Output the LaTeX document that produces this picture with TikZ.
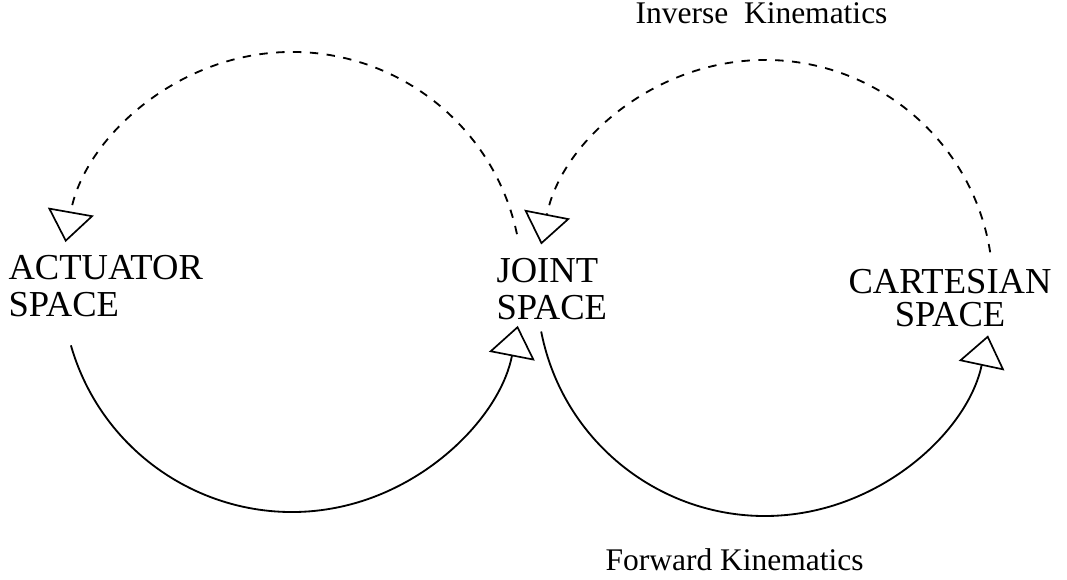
\documentclass[tikz,border=0pt]{standalone}
\usepackage{fontspec}
\setmainfont{Liberation Serif}
\usetikzlibrary{arrows.meta}
\tikzset{
  spacelabel/.style={inner sep=0pt,font=\fontsize{13}{13.1}\selectfont},
  kinlabel/.style={inner sep=0pt,font=\fontsize{11.2}{13}\selectfont},
  openhead/.style={-{Triangle[open,length=11pt,width=16.5pt,line width=0.6pt]}},
  arcline/.style={line width=0.65pt}
}
\begin{document}
\begin{tikzpicture}[x=0.0125cm,y=0.0125cm]
  \useasboundingbox (0,0) rectangle (1067,580);
  \coordinate (lc) at (292,298);
  \coordinate (rc) at (765,292);
  \node[spacelabel,anchor=north west,align=left] (actuator) at (8,325) {ACTUATOR\\SPACE};
  \node[spacelabel,anchor=north west,align=left] (joint) at (496,322) {JOINT\\SPACE};
  \node[spacelabel,anchor=north,align=center,font=\fontsize{13}{11.8}\selectfont] (cartesian) at (950,311) {CARTESIAN\\SPACE};
  \node[kinlabel,anchor=base west] (inverse) at (635,556) {Inverse~ Kinematics};
  \node[kinlabel,anchor=base west] (forward) at (605,9) {Forward Kinematics};
  \draw[arcline,dashed,openhead] ([shift={(12:230)}]lc) arc[start angle=12,end angle=170,radius=230];
  \draw[arcline,openhead] ([shift={(196:230)}]lc) arc[start angle=196,end angle=349,radius=230];
  \draw[arcline,dashed,openhead] ([shift={(9:228)}]rc) arc[start angle=9,end angle=169,radius=228];
  \draw[arcline,openhead] ([shift={(191:228)}]rc) arc[start angle=191,end angle=348,radius=228];
\end{tikzpicture}
\end{document}
